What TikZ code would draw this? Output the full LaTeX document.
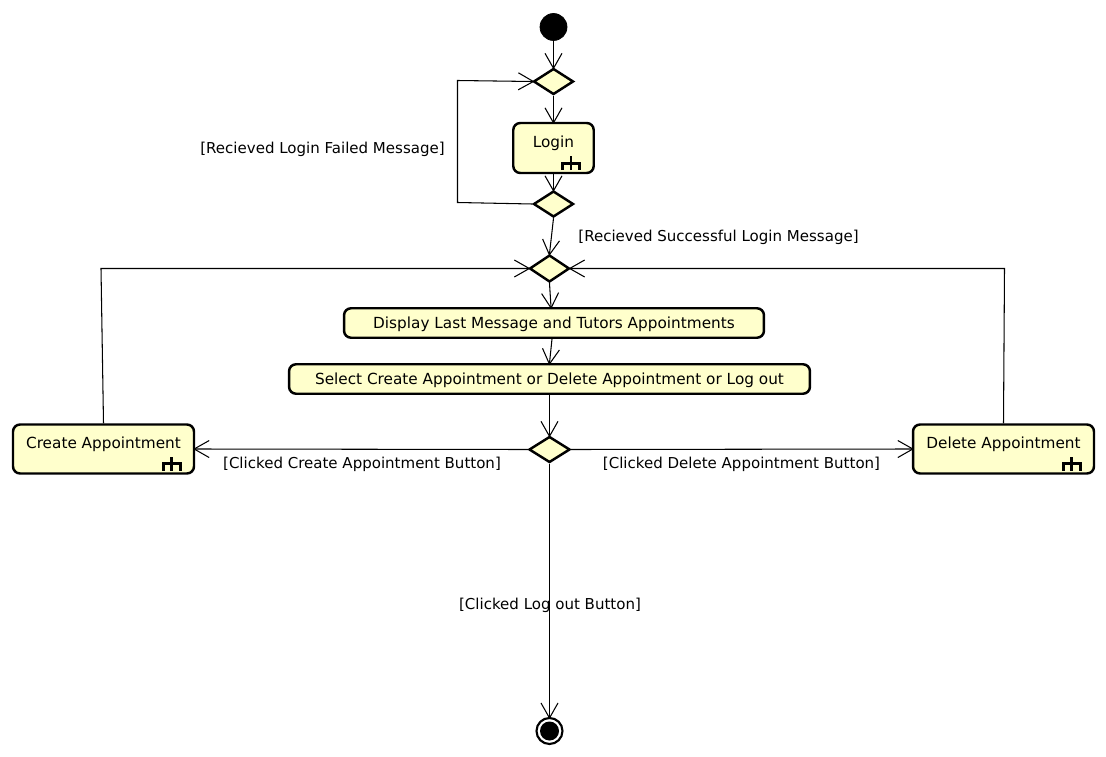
\documentclass[tikz,border=0pt]{standalone}
\usepackage{fontspec}
\setmainfont{DejaVu Sans}
\usetikzlibrary{shapes.geometric,arrows.meta,calc}

\definecolor{notefill}{HTML}{FFFFCC}

\tikzset{
    activity/.style={draw=black, line width=1.4pt, fill=notefill, rounded corners=4pt, inner sep=0pt, text depth=0pt},
    subactivity/.style={activity, text depth=7.5pt},
    decision/.style={draw=black, line width=1.4pt, fill=notefill, diamond, inner sep=0pt},
    flow/.style={line width=0.6pt, shorten >=-1.2pt, -{Straight Barb[length=0.3cm, width=0.34cm, line width=0.6pt]}},
    guard/.style={inner sep=0pt, text depth=0pt, font=\fontsize{8.55}{10}\selectfont},
    rake/.pic={
        \draw[line width=1.5pt] (-17,0) -- (-17,-7) -- (0,-7) -- (0,0);
        \draw[line width=1.5pt] (-8.5,0) -- (-8.5,-14);
    }
}

\begin{document}
\begin{tikzpicture}[x=0.02cm, y=-0.02cm, font=\fontsize{8.7}{10}\selectfont]
    \useasboundingbox (0,0) rectangle (1106,757);

    % Start and end
    \node[circle, fill=black, draw=black, minimum size=0.54cm, inner sep=0pt] (start) at (553.5,27) {};
    \node[circle, draw=black, line width=1.2pt, minimum size=0.52cm, inner sep=0pt] (finish) at (549.5,731) {};
    \node[circle, fill=black, minimum size=0.38cm, inner sep=0pt] (finishdot) at (549.5,731) {};

    % Decisions
    \node[decision, minimum width=0.8cm, minimum height=0.52cm] (loginmerge) at (553.5,81.5) {};
    \node[decision, minimum width=0.8cm, minimum height=0.52cm] (logincheck) at (553.5,204) {};
    \node[decision, minimum width=0.8cm, minimum height=0.54cm] (menumerge) at (549.5,268.5) {};
    \node[decision, minimum width=0.82cm, minimum height=0.52cm] (menucheck) at (549.5,449.5) {};

    % Activities
    \node[subactivity, minimum width=1.61cm, minimum height=1cm] (login) at (553.5,148) {Login};
    \node[activity, minimum width=8.4cm, minimum height=0.59cm] (display) at (554,323) {Display Last Message and Tutors Appointments};
    \node[activity, minimum width=10.42cm, minimum height=0.59cm] (select) at (549.5,379) {Select Create Appointment or Delete Appointment or Log out};
    \node[subactivity, minimum width=3.62cm, minimum height=0.98cm] (create) at (103.5,449) {Create Appointment};
    \node[subactivity, minimum width=3.62cm, minimum height=0.98cm] (delete) at (1003.5,449) {Delete Appointment};

    % Subactivity marks
    \pic at ($(login.south east)+(-15.5,-4)$) {rake};
    \pic at ($(create.south east)+(-15,-4)$) {rake};
    \pic at ($(delete.south east)+(-15,-4)$) {rake};

    % Bends
    \coordinate (loopbottom) at (457.5,202.5);
    \coordinate (looptop) at (457.5,80.5);
    \coordinate (createbend) at (101,268.5);
    \coordinate (deletebend) at (1004.5,268.5);

    % Flows
    \draw[flow] (start) -- (loginmerge);
    \draw[flow] (loginmerge) -- (login);
    \draw[flow] (login) -- (logincheck);
    \draw[flow] (logincheck.west) -- (loopbottom) -- (looptop) -- (loginmerge.west);
    \draw[flow] (logincheck.south) -- (menumerge.north);
    \draw[flow] (menumerge.south) -- (display.north -| 551,0);
    \draw[flow] (display.south -| 552,0) -- (select.north);
    \draw[flow] (select.south) -- (menucheck.north);
    \draw[flow] (menucheck.west) -- (create.east);
    \draw[flow] (menucheck.east) -- (delete.west);
    \draw[flow] (menucheck.south) -- (finish.north);
    \draw[flow] (create.north) -- (createbend) -- (menumerge.west);
    \draw[flow] (delete.north) -- (deletebend) -- (menumerge.east);

    % Guards
    \node[guard] (failed) at (322.5,147.5) {[Recieved Login Failed Message]};
    \node[guard] (success) at (718.5,235.5) {[Recieved Successful Login Message]};
    \node[guard] (clickcreate) at (362,462.5) {[Clicked Create Appointment Button]};
    \node[guard] (clickdelete) at (741.5,462.5) {[Clicked Delete Appointment Button]};
    \node[guard] (clicklogout) at (550,603.5) {[Clicked Log out Button]};
\end{tikzpicture}
\end{document}
